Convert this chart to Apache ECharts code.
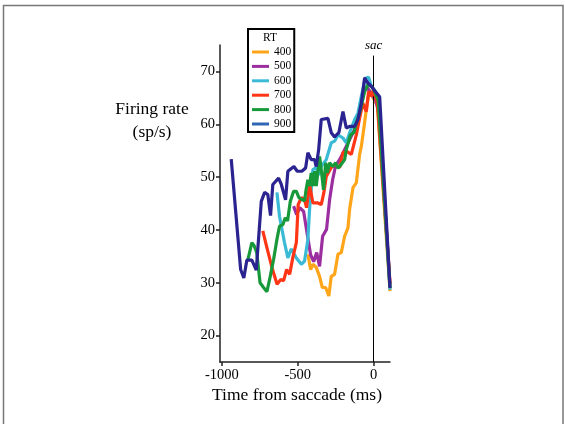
<!DOCTYPE html>
<html>
<head>
<meta charset="utf-8">
<script src="https://cdn.jsdelivr.net/npm/echarts@6/dist/echarts.min.js"></script>
<style>
  html, body { margin: 0; padding: 0; background: #fff; }
  #chart { width: 565px; height: 424px; }
</style>
</head>
<body>
<div id="chart"></div>
<script>
// RT groups (ms) and their colours
const rtNames = ['400', '500', '600', '700', '800', '900']
const rtColors = ['#ffa51a', '#9b2fa0', '#3bbad6', '#ff3516', '#17993a', '#2b2390']
const legendColors = ['#ffa51a', '#9b2fa0', '#3bbad6', '#ff3516', '#17993a', '#2f66b3']

// ticks
const xTicks = [-1000, -500, 0]
const yTicks = [20, 30, 40, 50, 60, 70]

// [time from saccade (ms), firing rate (sp/s)]
const rt400 = [[-433, 35.4], [-415, 32.5], [-400, 33.5], [-378, 32.9], [-356, 31.2], [-338, 29.1],
    [-316, 29.1], [-295, 27.5], [-279, 31.2], [-257, 31.6], [-235, 35.4], [-213, 35.7], [-191, 38.8],
    [-169, 40.4], [-158, 43.9], [-136, 48.0], [-114, 48.9], [-92, 54.3], [-81, 55.8], [-64, 59.3],
    [-44, 63.7], [-26, 66.5], [-9, 65.3], [25, 63.5], [108, 28.4]]
const rt500 = [[-527, 44.5], [-507, 42.9], [-487, 44.2], [-461, 43.5], [-435, 38.8], [-415, 35.3],
    [-395, 34.0], [-375, 35.7], [-356, 33.1], [-336, 38.8], [-310, 40.1], [-290, 45.7], [-270, 49.5],
    [-250, 52.2], [-224, 53.3], [-191, 55.2], [-158, 57.1], [-125, 59.0], [-92, 62.8], [-66, 66.2],
    [-40, 66.9], [-13, 65.6], [13, 64.6], [35, 62.0], [108, 29.7]]
const rt600 = [[-637, 47.1], [-620, 42.6], [-587, 37.6], [-565, 34.7], [-542, 36.4], [-509, 34.7],
    [-476, 33.5], [-455, 34.1], [-433, 38.2], [-422, 43.9], [-400, 51.4], [-378, 51.8], [-362, 50.4],
    [-345, 52.0], [-312, 53.3], [-279, 56.5], [-257, 56.8], [-235, 58.0], [-202, 57.4], [-180, 56.5],
    [-158, 58.4], [-125, 60.9], [-103, 62.1], [-81, 65.3], [-55, 68.7], [-33, 68.9], [-15, 67.2],
    [13, 66.2], [30, 64.0], [108, 28.7]]
const rt700 = [[-730, 39.8], [-705, 36.9], [-666, 32.5], [-636, 29.7], [-613, 30.6], [-593, 30.4],
    [-573, 32.5], [-553, 31.6], [-532, 34.8], [-509, 37.6], [-497, 44.8], [-476, 46.1], [-455, 45.8],
    [-442, 44.2], [-432, 46.3], [-422, 48.6], [-400, 45.1], [-367, 45.1], [-345, 44.8], [-328, 47.0],
    [-312, 50.1], [-279, 51.8], [-250, 52.4], [-224, 51.8], [-202, 54.6], [-180, 54.9], [-147, 54.3],
    [-114, 58.0], [-92, 61.2], [-71, 64.0], [-48, 62.4], [-33, 66.2], [-13, 65.3], [0, 66.5],
    [25, 64.0], [108, 29.9]]
const rt800 = [[-828, 34.4], [-802, 37.6], [-787, 37.0], [-770, 35.7], [-748, 30.0], [-725, 29.1],
    [-703, 28.3], [-681, 31.2], [-659, 34.4], [-637, 38.2], [-620, 40.7], [-598, 41.0], [-582, 42.3],
    [-567, 41.7], [-549, 45.4], [-527, 47.3], [-509, 47.3], [-492, 46.1], [-476, 45.8], [-455, 45.5],
    [-445, 47.6], [-433, 49.5], [-422, 48.3], [-411, 50.8], [-400, 48.3], [-389, 51.1], [-378, 48.3],
    [-367, 51.0], [-356, 53.9], [-345, 51.4], [-330, 47.6], [-316, 52.7], [-305, 50.8], [-290, 52.7],
    [-268, 52.0], [-250, 52.7], [-235, 51.7], [-213, 52.4], [-191, 53.3], [-180, 55.2], [-174, 55.8],
    [-152, 58.0], [-130, 58.4], [-114, 60.2], [-86, 62.8], [-59, 66.2], [-38, 67.5], [-15, 67.2],
    [3, 66.5], [30, 64.5], [108, 29.1]]
const rt900 = [[-938, 53.4], [-876, 32.5], [-855, 30.9], [-835, 34.3], [-802, 34.3], [-773, 32.4],
    [-740, 45.4], [-718, 47.1], [-697, 46.7], [-679, 42.7], [-664, 48.6], [-626, 49.8], [-608, 48.6],
    [-580, 45.7], [-565, 51.1], [-525, 52.0], [-503, 51.1], [-473, 51.1], [-448, 51.7], [-433, 54.6],
    [-411, 53.3], [-389, 53.3], [-378, 52.0], [-362, 55.2], [-345, 60.9], [-301, 61.1], [-279, 58.4],
    [-257, 57.6], [-229, 58.4], [-202, 62.4], [-180, 59.3], [-158, 59.6], [-125, 59.6], [-103, 60.9],
    [-81, 64.0], [-59, 68.8], [-38, 67.8], [-15, 67.2], [11, 66.2], [22, 66.5], [40, 65.2], [108, 29.0]]

const rtData = [rt400, rt500, rt600, rt700, rt800, rt900]

const serif = 'Liberation Serif'
let myChart = echarts.init(document.getElementById('chart'))

let series = rtNames.map((name, i) => ({
    name: name,
    type: 'line',
    data: rtData[i],
    showSymbol: false,
    symbol: 'none',
    lineStyle: { width: 3.2, color: rtColors[i] },
    itemStyle: { color: rtColors[i] },
    z: 2 + i
}))

// saccade onset line
series[0].markLine = {
    silent: true,
    symbol: 'none',
    lineStyle: { color: '#000', width: 1, type: 'solid' },
    label: {
        show: true, position: 'end', formatter: 'sac', distance: 3,
        fontFamily: serif, fontStyle: 'italic', fontSize: 13, color: '#000'
    },
    data: [[{ coord: [0, 15] }, { coord: [0, 73] }]]
}

let option = {
    animation: false,
    backgroundColor: '#fff',
    grid: { left: 220, right: 175, top: 45, bottom: 62 },
    xAxis: {
        type: 'value',
        min: -1012,
        max: 108,
        axisLine: { onZero: false, lineStyle: { color: '#222', width: 1.5 } },
        axisTick: { customValues: xTicks, length: 4, lineStyle: { color: '#222', width: 1.5 } },
        axisLabel: {
            customValues: xTicks, formatter: (v) => String(v),
            fontFamily: serif, fontSize: 14.5, color: '#000', margin: 6
        },
        splitLine: { show: false }
    },
    yAxis: {
        type: 'value',
        min: 15,
        max: 75,
        axisLine: { show: true, onZero: false, lineStyle: { color: '#222', width: 1.5 } },
        axisTick: { show: true, customValues: yTicks, length: 4, lineStyle: { color: '#222', width: 1.5 } },
        axisLabel: {
            customValues: yTicks, formatter: (v) => String(v),
            fontFamily: serif, fontSize: 14.5, color: '#000', margin: 5
        },
        splitLine: { show: false }
    },
    legend: {
        orient: 'vertical',
        left: 248,
        top: 29,
        padding: [17, 3, 2, 4],
        borderColor: '#000',
        borderWidth: 2,
        itemWidth: 17,
        itemHeight: 3,
        itemGap: 2.4,
        icon: 'rect',
        selectedMode: false,
        textStyle: { fontFamily: serif, fontSize: 11.5, lineHeight: 12, color: '#000' },
        data: rtNames.map((name, i) => ({ name: name, itemStyle: { color: legendColors[i] } }))
    },
    graphic: [
        {
            type: 'rect', silent: true,
            shape: { x: 3.5, y: 5.5, width: 559.5, height: 440 },
            style: { fill: 'none', stroke: '#777', lineWidth: 1.5 }
        },
        {
            type: 'text', left: 263, top: 32,
            style: { text: 'RT', fontFamily: serif, fontSize: 11.5, fill: '#000' }
        },
        {
            type: 'text', x: 152, y: 121,
            style: {
                text: 'Firing rate\n(sp/s)', fontFamily: serif, fontSize: 17.5, lineHeight: 23,
                fill: '#000', align: 'center', verticalAlign: 'middle'
            }
        },
        {
            type: 'text', x: 297, y: 395,
            style: {
                text: 'Time from saccade (ms)', fontFamily: serif, fontSize: 17.5,
                fill: '#000', align: 'center', verticalAlign: 'middle'
            }
        }
    ],
    series: series
}

myChart.setOption(option)
</script>
</body>
</html>
